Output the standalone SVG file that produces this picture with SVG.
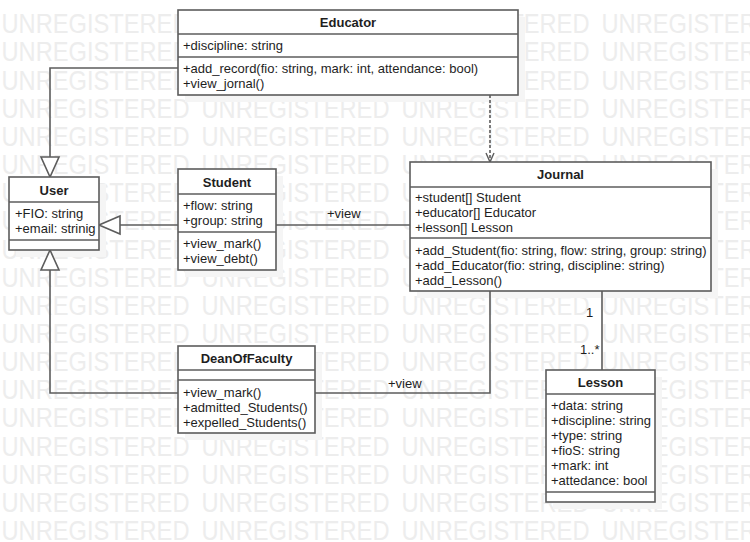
<svg xmlns="http://www.w3.org/2000/svg" xmlns:xlink="http://www.w3.org/1999/xlink" width="750" height="542" viewBox="0 0 750 542">
<style>
.wm{font-family:"Liberation Sans",Arial,sans-serif;font-size:28.5px;fill:#ededed}
.box{fill:#ffffff;stroke:#5c5c5c;stroke-width:1.6}
.sh{fill:#f5f5f5;stroke:none}
.sep{stroke:#5c5c5c;stroke-width:1.6}
.t{font-family:"Liberation Sans",Arial,sans-serif;font-size:13px;fill:#1e1e1e}
.h{font-family:"Liberation Sans",Arial,sans-serif;font-size:13px;font-weight:bold;fill:#1e1e1e;text-anchor:middle}
.ln{fill:none;stroke:#5c5c5c;stroke-width:1.6}
.tri{fill:#ffffff;stroke:#5c5c5c;stroke-width:1.6}
</style>
<defs>
<g id="wmrow" class="wm">
<text x="1.5" y="0" textLength="188" lengthAdjust="spacingAndGlyphs">UNREGISTERED</text>
<text x="201.5" y="0" textLength="188" lengthAdjust="spacingAndGlyphs">UNREGISTERED</text>
<text x="401.5" y="0" textLength="188" lengthAdjust="spacingAndGlyphs">UNREGISTERED</text>
<text x="601.5" y="0" textLength="188" lengthAdjust="spacingAndGlyphs">UNREGISTERED</text>
</g>
<marker id="open" viewBox="0 0 10 10" refX="10" refY="5" markerWidth="10" markerHeight="10" markerUnits="userSpaceOnUse" orient="auto">
<path d="M1,1 L10,5 L1,9" fill="none" stroke="#5c5c5c" stroke-width="1.4"/>
</marker>
</defs>
<rect width="750" height="542" fill="#ffffff"/>
<g id="watermark">
<use xlink:href="#wmrow" y="33.3"/>
<use xlink:href="#wmrow" y="61.45"/>
<use xlink:href="#wmrow" y="89.6"/>
<use xlink:href="#wmrow" y="117.75"/>
<use xlink:href="#wmrow" y="145.9"/>
<use xlink:href="#wmrow" y="174.05"/>
<use xlink:href="#wmrow" y="202.2"/>
<use xlink:href="#wmrow" y="230.35"/>
<use xlink:href="#wmrow" y="258.5"/>
<use xlink:href="#wmrow" y="286.65"/>
<use xlink:href="#wmrow" y="314.8"/>
<use xlink:href="#wmrow" y="342.95"/>
<use xlink:href="#wmrow" y="371.1"/>
<use xlink:href="#wmrow" y="399.25"/>
<use xlink:href="#wmrow" y="427.4"/>
<use xlink:href="#wmrow" y="455.55"/>
<use xlink:href="#wmrow" y="483.7"/>
<use xlink:href="#wmrow" y="511.85"/>
<use xlink:href="#wmrow" y="540"/>
</g>
<g id="shadows">
<rect class="sh" x="185" y="17" width="340" height="85"/>
<rect class="sh" x="16" y="184" width="90" height="73"/>
<rect class="sh" x="185" y="176" width="98" height="101"/>
<rect class="sh" x="417" y="169" width="301" height="129"/>
<rect class="sh" x="185" y="353" width="137" height="87"/>
<rect class="sh" x="553" y="377" width="109" height="132"/>
</g>
<g id="connectors">
<polyline class="ln" points="178,68 50,68 50,157"/>
<polygon class="tri" points="50,177 41,157 59,157"/>
<line class="ln" x1="178" y1="225" x2="120" y2="225"/>
<polygon class="tri" points="99,225 120,216 120,234"/>
<polyline class="ln" points="178,393 50,393 50,270"/>
<polygon class="tri" points="50,250 41,270 59,270"/>
<line class="ln" x1="490" y1="95" x2="490" y2="162" stroke-dasharray="3,2" marker-end="url(#open)"/>
<line class="ln" x1="276" y1="225" x2="410" y2="225"/>
<text class="t" x="327" y="218">+view</text>
<polyline class="ln" points="315,393 490,393 490,291"/>
<text class="t" x="388" y="388">+view</text>
<line class="ln" x1="602" y1="291" x2="602" y2="370"/>
<text class="t" x="586" y="317">1</text>
<text class="t" x="580" y="354">1..*</text>
</g>
<g id="Educator">
<rect class="box" x="178" y="10" width="340" height="85"/>
<line class="sep" x1="178" y1="34" x2="518" y2="34"/>
<line class="sep" x1="178" y1="57" x2="518" y2="57"/>
<text class="h" x="348" y="27">Educator</text>
<text class="t" x="183" y="50">+discipline: string</text>
<text class="t" x="183" y="73">+add_record(fio: string, mark: int, attendance: bool)</text>
<text class="t" x="183" y="88">+view_jornal()</text>
</g>
<g id="User">
<rect class="box" x="9" y="177" width="90" height="73"/>
<line class="sep" x1="9" y1="202" x2="99" y2="202"/>
<line class="sep" x1="9" y1="240" x2="99" y2="240"/>
<text class="h" x="54" y="195">User</text>
<text class="t" x="15" y="218">+FIO: string</text>
<text class="t" x="15" y="233">+email: strinig</text>
</g>
<g id="Student">
<rect class="box" x="178" y="169" width="98" height="101"/>
<line class="sep" x1="178" y1="194" x2="276" y2="194"/>
<line class="sep" x1="178" y1="232" x2="276" y2="232"/>
<text class="h" x="227" y="187">Student</text>
<text class="t" x="183" y="210">+flow: string</text>
<text class="t" x="183" y="225">+group: string</text>
<text class="t" x="183" y="248">+view_mark()</text>
<text class="t" x="183" y="263">+view_debt()</text>
</g>
<g id="Journal">
<rect class="box" x="410" y="162" width="301" height="129"/>
<line class="sep" x1="410" y1="187" x2="711" y2="187"/>
<line class="sep" x1="410" y1="238" x2="711" y2="238"/>
<text class="h" x="560.5" y="179">Journal</text>
<text class="t" x="415" y="202">+student[] Student</text>
<text class="t" x="415" y="217">+educator[] Educator</text>
<text class="t" x="415" y="232">+lesson[] Lesson</text>
<text class="t" x="415" y="255">+add_Student(fio: string, flow: string, group: string)</text>
<text class="t" x="415" y="270">+add_Educator(fio: string, discipline: string)</text>
<text class="t" x="415" y="285">+add_Lesson()</text>
</g>
<g id="DeanOfFaculty">
<rect class="box" x="178" y="346" width="137" height="87"/>
<line class="sep" x1="178" y1="370" x2="315" y2="370"/>
<line class="sep" x1="178" y1="380" x2="315" y2="380"/>
<text class="h" x="246.5" y="363">DeanOfFaculty</text>
<text class="t" x="183" y="397">+view_mark()</text>
<text class="t" x="183" y="412">+admitted_Students()</text>
<text class="t" x="183" y="427">+expelled_Students()</text>
</g>
<g id="Lesson">
<rect class="box" x="546" y="370" width="109" height="132"/>
<line class="sep" x1="546" y1="394" x2="655" y2="394"/>
<line class="sep" x1="546" y1="492" x2="655" y2="492"/>
<text class="h" x="600.5" y="387">Lesson</text>
<text class="t" x="551" y="410">+data: string</text>
<text class="t" x="551" y="425">+discipline: string</text>
<text class="t" x="551" y="440">+type: string</text>
<text class="t" x="551" y="455">+fioS: string</text>
<text class="t" x="551" y="470">+mark: int</text>
<text class="t" x="551" y="485">+attedance: bool</text>
</g>
</svg>
